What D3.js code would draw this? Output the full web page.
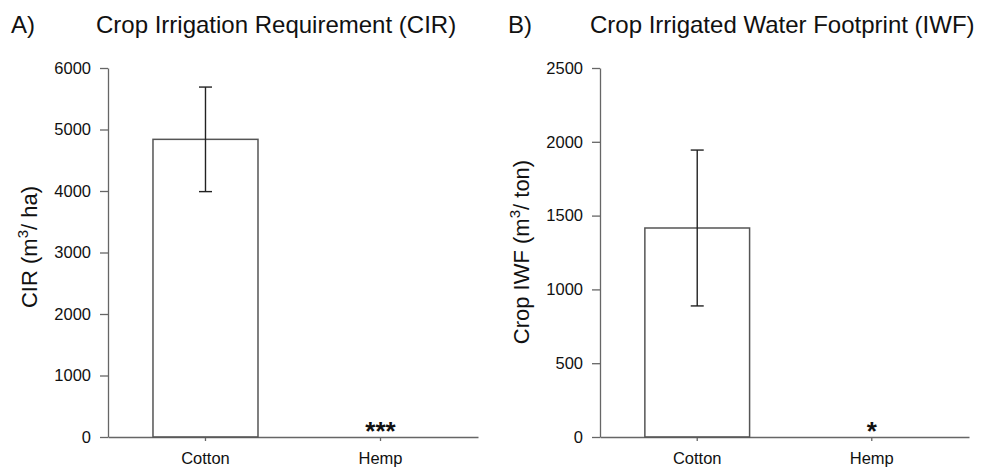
<!DOCTYPE html>
<html>
<head>
<meta charset="utf-8">
<script src="https://cdn.jsdelivr.net/npm/d3@7"></script>
<style>
  body { margin: 0; background: #fff; }
  svg { display: block; font-family: "Liberation Sans", Arial, sans-serif; }
</style>
</head>
<body>
<svg id="chart" width="981" height="469"></svg>
<script>
const categories = ["Cotton", "Hemp"];
const cirValues = [4840, 0];
const cirErrors = [850, 0];
const cirSignif = ["", "***"];
const cirTicks = [0, 1000, 2000, 3000, 4000, 5000, 6000];

const iwfValues = [1416, 0];
const iwfErrors = [528, 0];
const iwfSignif = ["", "*"];
const iwfTicks = [0, 500, 1000, 1500, 2000, 2500];

const svg = d3.select("#chart");

function panel(opts) {
  const g = svg.append("g");
  const y = d3.scaleLinear().domain([0, opts.max]).range([437, 68]);
  const x = d3.scaleBand().domain(categories).range([opts.x0, opts.x1])
    .paddingInner(0.4).paddingOuter(0.257);

  // y axis
  const ya = g.append("g").attr("transform", `translate(${opts.x0},0)`)
    .call(d3.axisLeft(y).tickValues(opts.ticks).tickFormat(d3.format("d"))
      .tickSize(8).tickSizeOuter(0).tickPadding(9));
  ya.select(".domain").attr("stroke", "#666").attr("stroke-width", 1.3);
  ya.selectAll(".tick line").attr("stroke", "#666").attr("stroke-width", 1.3);
  ya.selectAll(".tick text").attr("font-size", 16.5).attr("fill", "#111")
    .attr("font-family", "Liberation Sans, Arial, sans-serif");

  // x axis
  const xa = g.append("g").attr("transform", "translate(0,437)")
    .call(d3.axisBottom(x).tickSize(4).tickSizeOuter(0).tickPadding(11));
  xa.select(".domain").attr("stroke", "#666").attr("stroke-width", 1.3);
  xa.selectAll(".tick line").attr("stroke", "#666").attr("stroke-width", 1.3);
  xa.selectAll(".tick text").attr("font-size", 16.5).attr("fill", "#111")
    .attr("font-family", "Liberation Sans, Arial, sans-serif");

  // bars
  g.selectAll("rect.bar").data(categories).enter().append("rect")
    .attr("class", "bar")
    .attr("x", d => x(d))
    .attr("width", x.bandwidth())
    .attr("y", (d, i) => y(opts.values[i]))
    .attr("height", (d, i) => y(0) - y(opts.values[i]))
    .attr("fill", "none")
    .attr("stroke", "#555")
    .attr("stroke-width", 1.5);

  // error bars
  const capW = 13;
  categories.forEach((c, i) => {
    if (!opts.errors[i]) return;
    const cx = x(c) + x.bandwidth() / 2;
    const top = y(opts.values[i] + opts.errors[i]);
    const bot = y(opts.values[i] - opts.errors[i]);
    g.append("line").attr("x1", cx).attr("x2", cx).attr("y1", top).attr("y2", bot)
      .attr("stroke", "#222").attr("stroke-width", 1.4);
    [top, bot].forEach(yy => {
      g.append("line").attr("x1", cx - capW / 2).attr("x2", cx + capW / 2)
        .attr("y1", yy).attr("y2", yy).attr("stroke", "#222").attr("stroke-width", 1.4);
    });
  });

  // significance
  categories.forEach((c, i) => {
    if (!opts.signif[i]) return;
    g.append("text")
      .attr("x", x(c) + x.bandwidth() / 2)
      .attr("y", y(opts.values[i]) + 3)
      .attr("text-anchor", "middle")
      .attr("font-size", 26)
      .attr("font-weight", "bold")
      .attr("fill", "#111")
      .text(opts.signif[i]);
  });

  // panel letter and title
  g.append("text").attr("x", opts.letterX).attr("y", 33).attr("font-size", 24)
    .attr("fill", "#111").text(opts.letter);
  g.append("text").attr("x", opts.titleX).attr("y", 33).attr("font-size", 24)
    .attr("fill", "#111").text(opts.title);

  // y label
  const yl = g.append("text")
    .attr("transform", `translate(${opts.labelX},${opts.labelY}) rotate(-90)`)
    .attr("text-anchor", "middle")
    .attr("font-size", 22)
    .attr("fill", "#111");
  yl.append("tspan").text(opts.label[0]);
  yl.append("tspan").attr("dy", -9).attr("font-size", 15).text("3");
  yl.append("tspan").attr("dy", 9).text(opts.label[1]);
}

panel({
  x0: 108, x1: 478, max: 6000, ticks: cirTicks,
  values: cirValues, errors: cirErrors, signif: cirSignif,
  letter: "A)", letterX: 11, title: "Crop Irrigation Requirement (CIR)", titleX: 96,
  label: ["CIR (m", "/ ha)"], labelX: 37, labelY: 247
});

panel({
  x0: 600, x1: 969, max: 2500, ticks: iwfTicks,
  values: iwfValues, errors: iwfErrors, signif: iwfSignif,
  letter: "B)", letterX: 508, title: "Crop Irrigated Water Footprint (IWF)", titleX: 590,
  label: ["Crop IWF (m", "/ ton)"], labelX: 529, labelY: 252
});
</script>
</body>
</html>
